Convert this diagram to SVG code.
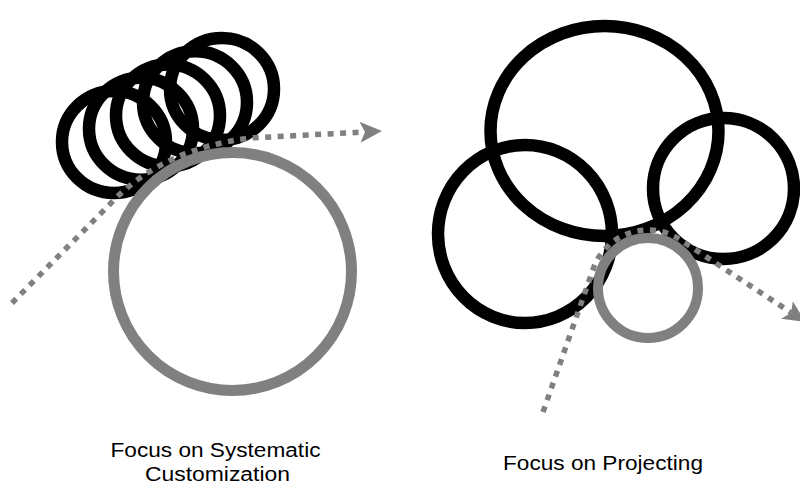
<svg xmlns="http://www.w3.org/2000/svg" width="800" height="486" viewBox="0 0 800 486">
  <style>
    .ring { fill: none; stroke: #000; stroke-width: 12.5; }
    .grey { fill: none; stroke: #808080; }
    .dots { fill: none; stroke: #808080; stroke-width: 5.5; stroke-dasharray: 6 6.5; }
    .label { font-family: "Liberation Sans", Arial, sans-serif; font-size: 20px; fill: #000; text-anchor: middle; }
  </style>
  <defs>
    <marker id="arrow" markerUnits="userSpaceOnUse" markerWidth="30" markerHeight="30" refX="0" refY="0" orient="auto" overflow="visible" viewBox="-10 -15 30 30">
      <path d="M-5,-10.5 L17,0 L-5,10.5 L0,0 Z" fill="#808080"/>
    </marker>
  </defs>
  <rect width="800" height="486" fill="#fff"/>

  <!-- Left diagram -->
  <g id="coil">
    <ellipse class="ring" cx="114" cy="142" rx="52" ry="51"/>
    <ellipse class="ring" cx="141" cy="128.75" rx="52" ry="51"/>
    <ellipse class="ring" cx="168" cy="115.5" rx="52" ry="51"/>
    <ellipse class="ring" cx="195" cy="102.25" rx="52" ry="51"/>
    <ellipse class="ring" cx="222" cy="89" rx="52" ry="51"/>
  </g>
  <g id="left-core">
    <circle class="grey" cx="232.5" cy="271.5" r="119" stroke-width="11"/>
  </g>

  <!-- Right diagram -->
  <g id="big-ring">
    <ellipse class="ring" cx="604.5" cy="131" rx="114" ry="105"/>
  </g>
  <g id="left-ring">
    <ellipse class="ring" cx="525" cy="234" rx="87" ry="89"/>
  </g>
  <g id="right-ring">
    <ellipse class="ring" cx="723.5" cy="188.5" rx="70.5" ry="70.5"/>
  </g>
  <g id="right-core">
    <circle class="grey" cx="648" cy="288" r="50" stroke-width="10"/>
  </g>

  <g id="connectors">
    <path class="dots" d="M12,303 L118,196 C150,166 190,146 250,138 L365,132" marker-end="url(#arrow)"/>
    <path class="dots" d="M543,412 L593.3,268.7 A58,58 0 0 1 680,239.6 L791.2,312.7" marker-end="url(#arrow)"/>
  </g>

  <g id="labels">
    <text class="label" x="215.5" y="457" textLength="210" lengthAdjust="spacingAndGlyphs">Focus on Systematic</text>
    <text class="label" x="217.5" y="481" textLength="145" lengthAdjust="spacingAndGlyphs">Customization</text>
    <text class="label" x="603" y="470" textLength="200" lengthAdjust="spacingAndGlyphs" style="font-size:20.5px">Focus on Projecting</text>
  </g>
</svg>
